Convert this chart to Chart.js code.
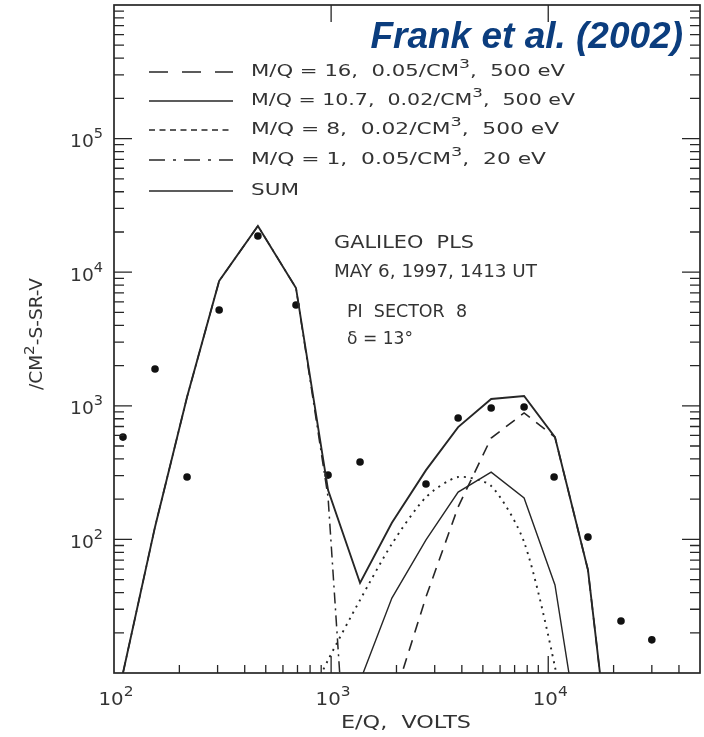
<!DOCTYPE html>
<html>
<head>
<meta charset="utf-8">
<script src="https://cdn.jsdelivr.net/npm/chart.js@4/dist/chart.umd.min.js"></script>
<style>
  html, body { margin:0; padding:0; background:#fff; }
  #wrap { width:704px; height:737px; }
</style>
</head>
<body>
<div id="wrap"><canvas id="plasmaChart" width="704" height="737"></canvas></div>
<script>

// model energy grid (E/Q, volts) and fitted flux curves
const energy   = [110, 154.5, 217, 305, 460, 689, 968, 1359, 1905, 2735, 3846, 5459, 7740, 10740, 15240, 21630];
const sumFlux  = [10, 124, 1164, 8590, 22200, 7620, 234, 47.2, 133, 330, 693, 1125, 1183, 583, 59, 0.44];
const mq16Flux = [null, null, null, null, null, null, null, null, 5.76, 37.1, 175, 574, 884, 583, 59, 0.44];
const mq107Flux = [null, null, null, null, null, null, null, 8.7, 36.4, 99, 226, 319, 204, 45.6, 1.26, null];
const mq8Flux  = [null, null, null, null, null, 4, 12.5, 35.2, 92.5, 207, 293, 251, 95.7, 11.1, 0.5, null];
const mq1Flux  = [10, 124, 1164, 8590, 22200, 7620, 207, 0.05, null, null, null, null, null, null, null, null];

// measured points
const obsEnergy = [110, 154.5, 217, 305, 460, 689, 968, 1359, 2735, 3846, 5459, 7740, 10640, 15240, 21630, 30000];
const obsFlux   = [583, 1885, 293, 5210, 18660, 5680, 303, 380, 260, 811, 964, 980, 293, 104, 24.5, 17.7];

// legend labels ("^" marks a superscript character)
const seriesNames = [
  "M/Q = 16,  0.05/CM^3,  500 eV",
  "M/Q = 10.7,  0.02/CM^3,  500 eV",
  "M/Q = 8,  0.02/CM^3,  500 eV",
  "M/Q = 1,  0.05/CM^3,  20 eV",
  "SUM"
];

const xTickValues = [100, 1000, 10000];
const yTickValues = [100, 1000, 10000, 100000];
const xTitle = "E/Q,  VOLTS";
const yTitle = "/CM^2-S-SR-V";
const notes = ["GALILEO  PLS", "MAY 6, 1997, 1413 UT", "PI  SECTOR  8", "\u03B4 = 13\u00B0"];
const citation = "Frank et al. (2002)";

const ink = "#262626";
const FONT = "'DejaVu Sans', sans-serif";

function pts(xs, ys){
  const out = [];
  for(let i=0;i<xs.length;i++){
    if(ys[i] !== null) out.push({x:xs[i], y:ys[i]});
  }
  return out;
}

// draw text with "^X" superscripts, optionally stretched to a width
function richText(ctx, str, x, y, size, align, width){
  const segs = [];
  for(let i=0;i<str.length;i++){
    if(str[i] === "^"){ segs.push({t:str[i+1], sup:true}); i++; }
    else {
      if(segs.length && !segs[segs.length-1].sup) segs[segs.length-1].t += str[i];
      else segs.push({t:str[i], sup:false});
    }
  }
  let w = 0;
  segs.forEach(s=>{
    ctx.font = (s.sup ? Math.round(size*0.8) : size) + "px " + FONT;
    s.w = ctx.measureText(s.t).width;
    w += s.w;
  });
  const sx = width ? width / w : 1;
  let cx = x;
  if(align === "center") cx = x - w*sx/2;
  if(align === "right") cx = x - w*sx;
  ctx.save();
  ctx.translate(cx, y);
  ctx.scale(sx, 1);
  ctx.textAlign = "left";
  ctx.textBaseline = "middle";
  let ox = 0;
  segs.forEach(s=>{
    ctx.font = (s.sup ? Math.round(size*0.8) : size) + "px " + FONT;
    ctx.fillText(s.t, ox, s.sup ? -size*0.45 : 0);
    ox += s.w;
  });
  ctx.restore();
}

const decor = {
  id:"decor",
  afterDraw(chart){
    const {ctx, chartArea:a, scales:{x, y}} = chart;
    ctx.save();
    ctx.strokeStyle = ink;
    ctx.fillStyle = "#333";
    ctx.lineWidth = 1.7;
    ctx.strokeRect(a.left, a.top, a.right-a.left, a.bottom-a.top);

    // inward ticks
    ctx.lineWidth = 1.3;
    ctx.beginPath();
    for(let d=100; d<=10000; d*=10){
      for(let m=1;m<=9;m++){
        const v = m*d;
        if(v <= 100 || v >= 50000) continue;
        const px = x.getPixelForValue(v);
        const len = m===1 ? 17 : 8;
        ctx.moveTo(px, a.bottom); ctx.lineTo(px, a.bottom-len);
        if(m===1){ ctx.moveTo(px, a.top); ctx.lineTo(px, a.top+17); }
      }
    }
    for(let d=10; d<=100000; d*=10){
      for(let m=1;m<=9;m++){
        const v = m*d;
        if(v <= 10 || v >= 1e6) continue;
        const py = y.getPixelForValue(v);
        const len = m===1 ? 18 : 10;
        ctx.moveTo(a.left, py); ctx.lineTo(a.left+len, py);
        ctx.moveTo(a.right, py); ctx.lineTo(a.right-len, py);
      }
    }
    ctx.stroke();

    // tick labels
    xTickValues.forEach(v=>{
      richText(ctx, "10^" + Math.round(Math.log10(v)), x.getPixelForValue(v)+2, a.bottom+27, 18, "center", 35);
    });
    yTickValues.forEach(v=>{
      richText(ctx, "10^" + Math.round(Math.log10(v)), a.left-11, y.getPixelForValue(v)+4, 18, "right", 33);
    });

    // axis titles
    richText(ctx, xTitle, 406, 724, 17, "center", 130);
    ctx.save();
    ctx.translate(38, 334);
    ctx.rotate(-Math.PI/2);
    richText(ctx, yTitle, 0, 0, 17, "center", 112);
    ctx.restore();

    // annotations
    richText(ctx, notes[0], 334, 244, 17, "left", 140);
    richText(ctx, notes[1], 334, 273, 17, "left", 203);
    richText(ctx, notes[2], 347, 313, 17, "left", 120);
    richText(ctx, notes[3], 347, 340, 17, "left", 66);

    // legend
    const rows = [72, 101, 130, 160, 191];
    const ends = [565, 575, 559, 546, 299];
    chart.data.datasets.slice(0,5).forEach((ds, i)=>{
      ctx.save();
      ctx.strokeStyle = ink;
      ctx.lineWidth = 1.5;
      ctx.setLineDash(ds.legendDash || []);
      ctx.beginPath();
      ctx.moveTo(149, rows[i]); ctx.lineTo(233, rows[i]);
      ctx.stroke();
      ctx.restore();
      richText(ctx, seriesNames[i], 251, rows[i], 16, "left", ends[i]-251);
    });

    // citation
    ctx.font = "italic bold 37px 'Liberation Sans', Arial, sans-serif";
    ctx.fillStyle = "#0b3d7e";
    ctx.textAlign = "right";
    ctx.textBaseline = "middle";
    ctx.fillText(citation, 683, 38);
    ctx.restore();
  }
};

new Chart(document.getElementById("plasmaChart"), {
  type:"scatter",
  data:{
    datasets:[
      { label:"M/Q=16", data:pts(energy, mq16Flux), showLine:true, pointRadius:0,
        borderColor:ink, borderWidth:1.6, borderDash:[11,8], legendDash:[19,14] },
      { label:"M/Q=10.7", data:pts(energy, mq107Flux), showLine:true, pointRadius:0,
        borderColor:ink, borderWidth:1.4 },
      { label:"M/Q=8", data:pts(energy, mq8Flux), showLine:true, pointRadius:0,
        borderColor:ink, borderWidth:1.9, borderDash:[2,5], legendDash:[6,4.5], tension:0.25 },
      { label:"M/Q=1", data:pts(energy, mq1Flux), showLine:true, pointRadius:0,
        borderColor:ink, borderWidth:1.5, borderDash:[11,5,2,5], legendDash:[16,8,3,8] },
      { label:"SUM", data:pts(energy, sumFlux), showLine:true, pointRadius:0,
        borderColor:ink, borderWidth:1.9 },
      { label:"data", data:pts(obsEnergy, obsFlux), showLine:false, pointRadius:3.8,
        pointBackgroundColor:"#111", pointBorderWidth:0 }
    ]
  },
  options:{
    responsive:false,
    devicePixelRatio:1,
    animation:false,
    layout:{ padding:{ left:114, right:4, top:5, bottom:64 } },
    plugins:{ legend:{ display:false }, tooltip:{ enabled:false } },
    scales:{
      x:{ type:"logarithmic", min:100, max:50000, display:false },
      y:{ type:"logarithmic", min:10, max:1000000, display:false }
    }
  },
  plugins:[decor]
});
</script>
</body>
</html>
